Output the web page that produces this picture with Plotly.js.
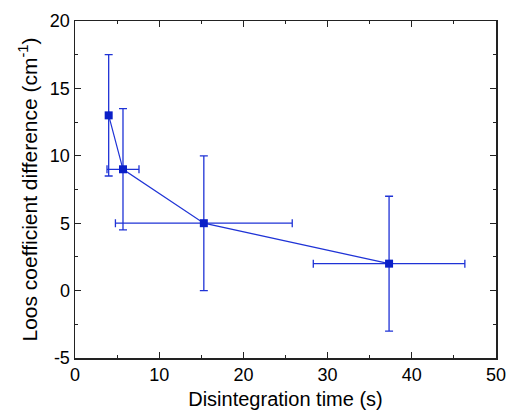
<!DOCTYPE html>
<html><head><meta charset="utf-8">
<script src="https://cdn.plot.ly/plotly-3.0.1.min.js"></script>
<style>html,body{margin:0;padding:0;background:#fff}</style>
</head><body><div id="chart" style="width:506px;height:417px"></div>
<script>
const times = [4.0, 5.7, 15.3, 37.3];
const timeErr = [0, 1.9, 10.5, 9.0];
const lossDiff = [13, 9, 5, 2];
const lossErr = [4.5, 4.5, 5, 5];
const xTickVals = [0, 10, 20, 30, 40, 50];
const xTickText = ['0', '10', '20', '30', '40', '50'];
const yTickVals = [-5, 0, 5, 10, 15, 20];
const yTickText = ['-5', '0', '5', '10', '15', '20'];

const fam = 'Liberation Sans, Arial, sans-serif';
const axisFont = {family: fam, size: 18, color: '#000'};
const trace = {
  x: times, y: lossDiff, type: 'scatter', mode: 'lines+markers',
  line: {color: '#1f33d6', width: 1.2},
  marker: {symbol: 'square', size: 8, color: '#0a1fc8'},
  error_y: {type: 'data', array: lossErr, visible: true, color: '#1f33d6', thickness: 1.3, width: 4},
  error_x: {type: 'data', array: timeErr, visible: true, color: '#1f33d6', thickness: 1.3, width: 4},
  showlegend: false
};
const common = {showline: true, linecolor: '#222', linewidth: 1.5, mirror: 'ticks', ticks: 'inside', ticklen: 6, tickwidth: 1.2, tickcolor: '#222', showgrid: false, zeroline: false, tickfont: axisFont, tickmode: 'array', ticklabeloverflow: 'allow'};
const minorTicks = {ticks: 'inside', ticklen: 3, tickwidth: 1, tickcolor: '#222', showgrid: false};
const layout = {
  width: 506, height: 417,
  margin: {l: 75, r: 10, t: 21, b: 59},
  paper_bgcolor: '#fff', plot_bgcolor: '#fff',
  xaxis: Object.assign({}, common, {range: [0, 50], tickvals: xTickVals, ticktext: xTickText,
    minor: Object.assign({}, minorTicks, {tickmode: 'linear', tick0: 0, dtick: 5}),
    title: {text: 'Disintegration time (s)', font: {family: fam, size: 20, color: '#000'}, standoff: 8}}),
  yaxis: Object.assign({}, common, {range: [-5, 20], tickvals: yTickVals, ticktext: yTickText,
    minor: Object.assign({}, minorTicks, {tickmode: 'linear', tick0: 0, dtick: 2.5}),
    title: {text: 'Loos coefficient difference (cm<sup>-1</sup>)', font: {family: fam, size: 21, color: '#000'}, standoff: 6}})
};
Plotly.newPlot('chart', [trace], layout, {displayModeBar: false, staticPlot: true});
</script></body></html>
